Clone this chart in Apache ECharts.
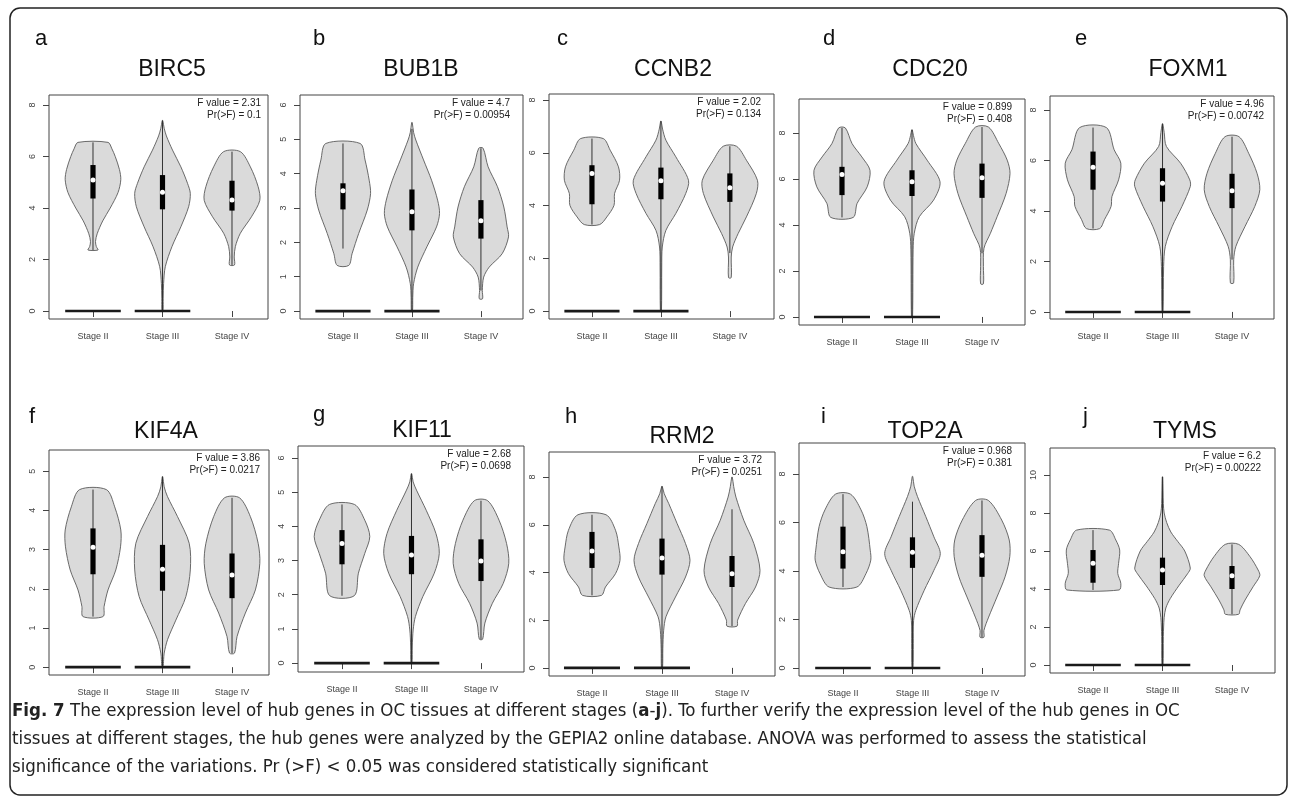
<!DOCTYPE html>
<html>
<head>
<meta charset="utf-8">
<title>Hub gene expression by stage</title>
<script src="https://cdn.jsdelivr.net/npm/echarts@6/dist/echarts.min.js"></script>
<style>
  html, body { margin: 0; padding: 0; background: #fff; }
  #chart { width: 1292px; height: 797px; }
</style>
</head>
<body>
<div id="chart"></div>
<script>
// categories and panel labels
const stages = ['Stage II', 'Stage III', 'Stage IV']
const genes = ['BIRC5', 'BUB1B', 'CCNB2', 'CDC20', 'FOXM1', 'KIF4A', 'KIF11', 'RRM2', 'TOP2A', 'TYMS']
const panelLetters = ['a', 'b', 'c', 'd', 'e', 'f', 'g', 'h', 'i', 'j']
const fValues = ['2.31', '4.7', '2.02', '0.899', '4.96', '3.86', '2.68', '3.72', '0.968', '6.2']
const pValues = ['0.1', '0.00954', '0.134', '0.408', '0.00742', '0.0217', '0.0698', '0.0251', '0.381', '0.00222']
const yTicks = [
  [0, 2, 4, 6, 8], [0, 1, 2, 3, 4, 5, 6], [0, 2, 4, 6, 8], [0, 2, 4, 6, 8], [0, 2, 4, 6, 8],
  [0, 1, 2, 3, 4, 5], [0, 1, 2, 3, 4, 5, 6], [0, 2, 4, 6, 8], [0, 2, 4, 6, 8], [0, 2, 4, 6, 8, 10]
]
// stages that have a block of zero values drawn as a flat bar at 0
const zeroStages = ['Stage II', 'Stage III']

// violin outlines: [expression, relative width] from top to bottom, one list per stage
const violinBIRC5 = [
  [[6.55, 0.54], [6.3, 0.68], [6.0, 0.8], [5.5, 0.95], [5.1, 1.0], [4.6, 0.9], [4.0, 0.62], [3.5, 0.35], [3.0, 0.15], [2.7, 0.09], [2.5, 0.12], [2.37, 0.18]],
  [[7.4, 0.01], [7.1, 0.06], [6.8, 0.14], [6.25, 0.36], [5.6, 0.66], [4.96, 0.9], [4.57, 1.0], [4.05, 0.94], [3.27, 0.66], [2.5, 0.34], [1.72, 0.1], [1.07, 0.04], [0.5, 0.025], [0, 0.02]],
  [[6.19, 0.3], [5.6, 0.66], [4.83, 0.94], [4.3, 1.0], [3.66, 0.7], [3.02, 0.3], [2.5, 0.12], [2.1, 0.08], [1.79, 0.09]]
]
const violinBUB1B = [
  [[4.88, 0.62], [4.4, 0.8], [3.81, 0.95], [3.42, 1.0], [2.94, 0.88], [2.26, 0.57], [1.67, 0.33], [1.33, 0.21]],
  [[5.49, 0.01], [5.2, 0.06], [4.98, 0.14], [4.4, 0.42], [3.81, 0.71], [3.23, 0.93], [2.84, 1.0], [2.45, 0.89], [1.87, 0.54], [1.28, 0.21], [0.8, 0.06], [0.4, 0.03], [0, 0.02]],
  [[4.74, 0.08], [4.2, 0.26], [3.62, 0.6], [3.03, 0.83], [2.45, 0.95], [2.16, 1.0], [1.67, 0.77], [1.28, 0.3], [0.99, 0.1], [0.6, 0.05], [0.36, 0.06]]
]
const violinCCNB2 = [
  [[6.54, 0.41], [6.1, 0.66], [5.47, 0.96], [4.96, 1.0], [4.46, 0.82], [4.01, 0.8], [3.57, 0.54], [3.28, 0.28]],
  [[7.2, 0.01], [6.9, 0.06], [6.48, 0.18], [5.85, 0.54], [4.96, 1.0], [4.46, 0.9], [3.7, 0.54], [3.06, 0.18], [2.43, 0.05], [1.67, 0.03], [0, 0.02]],
  [[6.25, 0.24], [5.72, 0.6], [4.96, 1.0], [4.46, 0.96], [3.57, 0.6], [2.94, 0.3], [2.43, 0.1], [2.05, 0.05], [1.27, 0.05]]
]
const violinCDC20 = [
  [[8.22, 0.12], [7.54, 0.36], [6.96, 0.71], [6.38, 1.0], [5.66, 0.9], [4.94, 0.54], [4.33, 0.4]],
  [[8.14, 0.01], [7.9, 0.05], [7.54, 0.14], [6.82, 0.54], [5.88, 1.0], [5.08, 0.77], [4.36, 0.26], [3.64, 0.08], [2.92, 0.04], [0, 0.02]],
  [[8.26, 0.23], [7.54, 0.6], [6.82, 0.9], [6.24, 1.0], [5.37, 0.86], [4.36, 0.54], [3.64, 0.3], [2.99, 0.07], [2.2, 0.05], [1.44, 0.05]]
]
const violinFOXM1 = [
  [[7.3, 0.48], [6.42, 0.76], [5.89, 1.0], [5.23, 0.92], [4.57, 0.68], [4.18, 0.65], [3.65, 0.41], [3.3, 0.24]],
  [[7.45, 0.01], [7.1, 0.06], [6.55, 0.14], [5.89, 0.65], [5.23, 0.98], [4.97, 1.0], [4.18, 0.7], [3.39, 0.35], [2.6, 0.1], [1.8, 0.04], [0, 0.02]],
  [[6.94, 0.25], [6.28, 0.6], [5.49, 0.9], [4.84, 1.0], [4.18, 0.82], [3.39, 0.47], [2.6, 0.14], [2.07, 0.06], [1.15, 0.06]]
]
const violinKIF4A = [
  [[4.53, 0.48], [4.09, 0.78], [3.5, 1.0], [3.07, 0.99], [2.48, 0.82], [1.97, 0.54], [1.55, 0.4], [1.29, 0.36]],
  [[4.86, 0.01], [4.6, 0.06], [4.35, 0.18], [3.84, 0.54], [3.16, 0.96], [2.48, 1.0], [1.8, 0.84], [1.2, 0.48], [0.7, 0.18], [0.36, 0.06], [0.19, 0.04], [0, 0.02]],
  [[4.32, 0.27], [3.84, 0.66], [3.16, 0.94], [2.65, 1.0], [1.97, 0.84], [1.38, 0.48], [0.78, 0.18], [0.36, 0.09]]
]
const violinKIF11 = [
  [[4.64, 0.45], [4.18, 0.82], [3.7, 1.0], [3.21, 0.82], [2.63, 0.59], [1.97, 0.44]],
  [[5.54, 0.01], [5.3, 0.06], [5.06, 0.18], [4.47, 0.53], [3.79, 0.88], [3.21, 1.0], [2.63, 0.82], [1.95, 0.41], [1.36, 0.14], [0.97, 0.06], [0.5, 0.03], [0, 0.02]],
  [[4.75, 0.24], [4.18, 0.65], [3.5, 0.92], [2.92, 1.0], [2.33, 0.8], [1.75, 0.41], [1.17, 0.14], [0.7, 0.06]]
]
const violinRRM2 = [
  [[6.42, 0.5], [5.77, 0.84], [5.07, 0.96], [4.51, 1.0], [3.95, 0.84], [3.39, 0.48], [3.04, 0.34]],
  [[7.61, 0.01], [7.3, 0.08], [6.89, 0.24], [6.05, 0.54], [5.21, 0.84], [4.51, 1.0], [3.81, 0.84], [2.97, 0.48], [2.14, 0.14], [1.58, 0.06], [0.8, 0.03], [0, 0.02]],
  [[8.0, 0.01], [7.6, 0.06], [7.16, 0.14], [6.19, 0.42], [5.21, 0.78], [4.09, 1.0], [3.39, 0.84], [2.7, 0.48], [2.0, 0.2], [1.75, 0.18]]
]
const violinTOP2A = [
  [[7.17, 0.27], [6.52, 0.65], [5.83, 0.86], [4.86, 0.98], [4.45, 1.0], [3.9, 0.83], [3.34, 0.5]],
  [[7.9, 0.01], [7.5, 0.06], [7.07, 0.18], [6.24, 0.48], [5.41, 0.77], [4.72, 1.0], [4.03, 0.77], [3.2, 0.42], [2.38, 0.12], [1.96, 0.04], [1.0, 0.03], [0, 0.02]],
  [[6.91, 0.23], [6.1, 0.71], [5.28, 0.98], [4.59, 1.0], [3.76, 0.83], [2.93, 0.54], [2.1, 0.24], [1.55, 0.07], [1.27, 0.07]]
]
const violinTYMS = [
  [[7.1, 0.59], [6.58, 0.82], [6.05, 0.96], [5.35, 0.92], [4.82, 0.89], [4.3, 1.0], [3.95, 0.94]],
  [[9.9, 0.01], [8.5, 0.03], [8.0, 0.06], [7.5, 0.15], [7.0, 0.3], [6.5, 0.55], [6.0, 0.8], [5.1, 1.0], [4.8, 0.9], [4.2, 0.6], [3.5, 0.28], [3.0, 0.12], [2.5, 0.06], [2.0, 0.04], [1.5, 0.03], [0, 0.02]],
  [[6.35, 0.24], [5.7, 0.65], [5.0, 0.94], [4.7, 1.0], [4.12, 0.76], [3.42, 0.47], [2.9, 0.29], [2.67, 0.24]]
]

// box stats per stage: [whisker low, q1, median, q3, whisker high]
const boxBIRC5 = [[2.37, 4.37, 5.09, 5.67, 6.55], [0, 3.95, 4.61, 5.28, 7.4], [1.79, 3.9, 4.31, 5.06, 6.19]]
const boxBUB1B = [[1.82, 2.96, 3.5, 3.72, 4.88], [0, 2.35, 2.89, 3.54, 5.3], [0.6, 2.11, 2.63, 3.23, 4.74]]
const boxCCNB2 = [[3.28, 4.05, 5.22, 5.53, 6.54], [0, 4.24, 4.94, 5.44, 7.2], [2.2, 4.14, 4.68, 5.22, 6.25]]
const boxCDC20 = [[4.33, 5.3, 6.2, 6.53, 8.22], [0, 5.26, 5.88, 6.38, 8.14], [2.77, 5.18, 6.06, 6.67, 8.26]]
const boxFOXM1 = [[3.3, 4.84, 5.73, 6.35, 7.3], [0, 4.37, 5.1, 5.69, 7.45], [2.07, 4.11, 4.8, 5.47, 6.94]]
const boxKIF4A = [[1.29, 2.37, 3.06, 3.54, 4.53], [0, 1.95, 2.5, 3.12, 4.86], [0.36, 1.76, 2.35, 2.9, 4.32]]
const boxKIF11 = [[1.97, 2.89, 3.5, 3.89, 4.64], [0, 2.6, 3.16, 3.72, 5.54], [0.7, 2.4, 2.99, 3.62, 4.75]]
const boxRRM2 = [[3.04, 4.19, 4.9, 5.7, 6.42], [0, 3.91, 4.61, 5.42, 7.61], [1.75, 3.39, 3.95, 4.69, 6.65]]
const boxTOP2A = [[3.34, 4.1, 4.79, 5.83, 7.17], [0, 4.13, 4.77, 5.39, 6.86], [1.27, 3.76, 4.65, 5.48, 6.91]]
const boxTYMS = [[3.95, 4.33, 5.35, 6.05, 7.1], [0, 4.21, 5.0, 5.65, 9.9], [2.67, 4.0, 4.7, 5.21, 6.35]]

const violins = [violinBIRC5, violinBUB1B, violinCCNB2, violinCDC20, violinFOXM1, violinKIF4A, violinKIF11, violinRRM2, violinTOP2A, violinTYMS]
const boxes = [boxBIRC5, boxBUB1B, boxCCNB2, boxCDC20, boxFOXM1, boxKIF4A, boxKIF11, boxRRM2, boxTOP2A, boxTYMS]

const captionLines = [
  '{b|Fig. 7} The expression level of hub genes in OC tissues at different stages ({b|a}-{b|j}). To further verify the expression level of the hub genes in OC',
  'tissues at different stages, the hub genes were analyzed by the GEPIA2 online database. ANOVA was performed to assess the statistical',
  'significance of the variations. Pr (>F) < 0.05 was considered statistically significant'
]

// ---- layout (pixels) ----
// plot box [left, top, right, bottom], x range, y range
const panelBox = [
  [49, 95, 268, 319], [300, 95, 523, 319], [549, 94, 774, 319], [799, 99, 1025, 325], [1050, 96, 1274, 319],
  [49, 450, 269, 675], [298, 446, 524, 672], [549, 452, 775, 676], [799, 443, 1025, 676], [1050, 448, 1275, 673]
]
const xRange = [
  [0.367, 3.518], [0.377, 3.61], [0.377, 3.64], [0.386, 3.614], [0.381, 3.604],
  [0.367, 3.532], [0.367, 3.619], [0.386, 3.614], [0.367, 3.619], [0.381, 3.619]
]
const yRange = [
  [-0.31, 8.39], [-0.23, 6.29], [-0.3, 8.23], [-0.35, 9.48], [-0.28, 8.55],
  [-0.2, 5.54], [-0.26, 6.35], [-0.34, 9.05], [-0.33, 9.28], [-0.42, 11.42]
]
const letterPos = [[35, 39], [313, 39], [557, 39], [823, 39], [1075, 39], [29, 417], [313, 415], [565, 417], [821, 417], [1083, 417]]
const titlePos = [[172, 70], [421, 70], [673, 70], [930, 70], [1188, 70], [166, 432], [422, 431], [682, 437], [925, 432], [1185, 432]]
const statRight = [261, 510, 761, 1012, 1264, 260, 511, 762, 1012, 1261]

const HALF = 0.4
const SANS = '"Liberation Sans", Arial, Helvetica, sans-serif'

const chart = echarts.init(document.getElementById('chart'), null, { renderer: 'canvas' })

const grids = [], xAxes = [], yAxes = [], series = [], graphics = []

genes.forEach((gene, g) => {
  const [L, T, R, B] = panelBox[g]
  grids.push({
    left: L, top: T, width: R - L, height: B - T,
    show: true, borderColor: '#444', borderWidth: 1, backgroundColor: '#fff'
  })
  xAxes.push({
    type: 'value', gridIndex: g, min: xRange[g][0], max: xRange[g][1],
    axisLine: { show: false },
    splitLine: { show: false },
    axisTick: { show: true, length: 6, customValues: [1, 2, 3], lineStyle: { color: '#444' } },
    axisLabel: {
      customValues: [1, 2, 3], formatter: v => stages[Math.round(v) - 1],
      fontSize: 9, color: '#444', margin: 13, fontFamily: SANS
    }
  })
  yAxes.push({
    type: 'value', gridIndex: g, min: yRange[g][0], max: yRange[g][1],
    axisLine: { show: false },
    splitLine: { show: false },
    axisTick: { show: true, length: 6, customValues: yTicks[g], lineStyle: { color: '#444' } },
    axisLabel: {
      customValues: yTicks[g], rotate: 90, fontSize: 9, color: '#444', margin: 12, fontFamily: SANS
    }
  })

  // zero-value bars
  series.push({
    type: 'custom', xAxisIndex: g, yAxisIndex: g, silent: true,
    data: zeroStages.map(s => [stages.indexOf(s) + 1, 0]),
    renderItem: (params, api) => {
      const x = api.value(0), y = api.value(1)
      const a = api.coord([x - HALF, y]), b = api.coord([x + HALF, y])
      return {
        type: 'line', z2: 5,
        shape: { x1: a[0], y1: a[1], x2: b[0], y2: b[1] },
        style: { stroke: '#1a1a1a', lineWidth: 2.6 }
      }
    }
  })

  // violins with inner box plot
  series.push({
    type: 'custom', xAxisIndex: g, yAxisIndex: g, silent: true,
    data: stages.map((s, i) => [i + 1, boxes[g][i][2]]),
    renderItem: (params, api) => {
      const i = params.dataIndex
      const x = api.value(0)
      const prof = violins[g][i]
      const right = prof.map(([v, w]) => api.coord([x + w * HALF, v]))
      const left = prof.slice().reverse().map(([v, w]) => api.coord([x - w * HALF, v]))
      const [lo, q1, med, q3, hi] = boxes[g][i]
      const pHi = api.coord([x, hi]), pLo = api.coord([x, lo])
      const pQ3 = api.coord([x, q3]), pQ1 = api.coord([x, q1]), pMed = api.coord([x, med])
      return {
        type: 'group',
        children: [
          {
            type: 'polygon',
            shape: { points: right.concat(left), smooth: 0.3 },
            style: { fill: '#dadada', stroke: '#5a5a5a', lineWidth: 0.9 }
          },
          {
            type: 'line',
            shape: { x1: pHi[0], y1: pHi[1], x2: pLo[0], y2: pLo[1] },
            style: { stroke: '#333', lineWidth: 1 }
          },
          {
            type: 'rect',
            shape: { x: pQ3[0] - 2.6, y: pQ3[1], width: 5.2, height: pQ1[1] - pQ3[1] },
            style: { fill: '#000' }
          },
          {
            type: 'circle',
            shape: { cx: pMed[0], cy: pMed[1], r: 2.5 },
            style: { fill: '#fff' }
          }
        ]
      }
    }
  })

  graphics.push({
    type: 'text', x: letterPos[g][0], y: letterPos[g][1],
    style: { text: panelLetters[g], fontSize: 22, fontFamily: SANS, fill: '#111', align: 'left', verticalAlign: 'middle' }
  })
  graphics.push({
    type: 'text', x: titlePos[g][0], y: titlePos[g][1],
    style: { text: gene, fontSize: 23, fontFamily: SANS, fill: '#111', align: 'center', verticalAlign: 'middle' }
  })
  graphics.push({
    type: 'text', x: statRight[g], y: T + 8,
    style: { text: 'F value = ' + fValues[g], fontSize: 10, fontFamily: SANS, fill: '#222', align: 'right', verticalAlign: 'middle' }
  })
  graphics.push({
    type: 'text', x: statRight[g], y: T + 20,
    style: { text: 'Pr(>F) = ' + pValues[g], fontSize: 10, fontFamily: SANS, fill: '#222', align: 'right', verticalAlign: 'middle' }
  })
})

// caption
const captionFont = '"DejaVu Sans Condensed", "Open Sans", sans-serif'
captionLines.forEach((line, k) => {
  graphics.push({
    type: 'text', x: 12, y: 711 + k * 28,
    style: {
      text: line, fontSize: 18.5, fontFamily: captionFont, fill: '#222',
      align: 'left', verticalAlign: 'middle',
      rich: { b: { fontWeight: 'bold', fontSize: 18.5, fontFamily: captionFont, fill: '#222' } }
    }
  })
})

// outer frame
graphics.push({
  type: 'rect', z: -1,
  shape: { x: 10, y: 8, width: 1277, height: 787, r: 10 },
  style: { fill: 'none', stroke: '#222', lineWidth: 1.5 }
})

chart.setOption({
  animation: false,
  backgroundColor: '#fff',
  grid: grids,
  xAxis: xAxes,
  yAxis: yAxes,
  series: series,
  graphic: graphics
})
</script>
</body>
</html>
